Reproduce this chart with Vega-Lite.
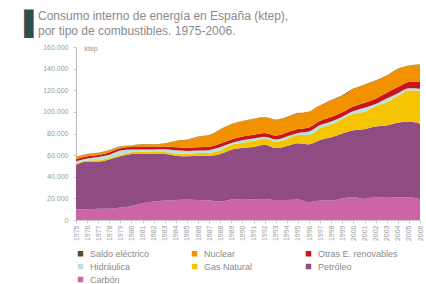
{
  "$schema": "https://vega.github.io/schema/vega-lite/v6.json",
  "width": 344,
  "height": 173,
  "autosize": {"type": "none"},
  "padding": {"left": 76, "top": 47, "right": 6, "bottom": 64},
  "background": "white",
  "config": {
    "view": {"stroke": null},
    "font": "Liberation Sans",
    "locale": {"number": {"decimal": ",", "thousands": ".", "grouping": [3], "currency": ["", " €"]}}
  },
  "title": {
    "text": ["Consumo interno de energía en España (ktep),", "por tipo de combustibles. 1975-2006."],
    "anchor": "start",
    "frame": "group",
    "dx": -38,
    "offset": -26,
    "fontSize": 12,
    "fontWeight": "normal",
    "color": "#8a8a8a",
    "lineHeight": 15
  },
  "data": {"values": [
    {"anio":1975,"fuente":"Carbón","ktep":10000},{"anio":1975,"fuente":"Petróleo","ktep":41000},{"anio":1975,"fuente":"Gas Natural","ktep":1000},{"anio":1975,"fuente":"Hidráulica","ktep":2300},{"anio":1975,"fuente":"Otras E. renovables","ktep":2000},{"anio":1975,"fuente":"Nuclear","ktep":2000},{"anio":1975,"fuente":"Saldo eléctrico","ktep":200},
    {"anio":1976,"fuente":"Carbón","ktep":10000},{"anio":1976,"fuente":"Petróleo","ktep":44000},{"anio":1976,"fuente":"Gas Natural","ktep":1000},{"anio":1976,"fuente":"Hidráulica","ktep":1900},{"anio":1976,"fuente":"Otras E. renovables","ktep":2000},{"anio":1976,"fuente":"Nuclear","ktep":2000},{"anio":1976,"fuente":"Saldo eléctrico","ktep":200},
    {"anio":1977,"fuente":"Carbón","ktep":10500},{"anio":1977,"fuente":"Petróleo","ktep":43500},{"anio":1977,"fuente":"Gas Natural","ktep":1200},{"anio":1977,"fuente":"Hidráulica","ktep":3000},{"anio":1977,"fuente":"Otras E. renovables","ktep":2000},{"anio":1977,"fuente":"Nuclear","ktep":1700},{"anio":1977,"fuente":"Saldo eléctrico","ktep":200},
    {"anio":1978,"fuente":"Carbón","ktep":10500},{"anio":1978,"fuente":"Petróleo","ktep":45500},{"anio":1978,"fuente":"Gas Natural","ktep":1300},{"anio":1978,"fuente":"Hidráulica","ktep":3100},{"anio":1978,"fuente":"Otras E. renovables","ktep":2100},{"anio":1978,"fuente":"Nuclear","ktep":2000},{"anio":1978,"fuente":"Saldo eléctrico","ktep":200},
    {"anio":1979,"fuente":"Carbón","ktep":11500},{"anio":1979,"fuente":"Petróleo","ktep":47500},{"anio":1979,"fuente":"Gas Natural","ktep":1400},{"anio":1979,"fuente":"Hidráulica","ktep":3800},{"anio":1979,"fuente":"Otras E. renovables","ktep":2100},{"anio":1979,"fuente":"Nuclear","ktep":1700},{"anio":1979,"fuente":"Saldo eléctrico","ktep":200},
    {"anio":1980,"fuente":"Carbón","ktep":13000},{"anio":1980,"fuente":"Petróleo","ktep":48000},{"anio":1980,"fuente":"Gas Natural","ktep":1600},{"anio":1980,"fuente":"Hidráulica","ktep":2600},{"anio":1980,"fuente":"Otras E. renovables","ktep":2200},{"anio":1980,"fuente":"Nuclear","ktep":1300},{"anio":1980,"fuente":"Saldo eléctrico","ktep":200},
    {"anio":1981,"fuente":"Carbón","ktep":15500},{"anio":1981,"fuente":"Petróleo","ktep":46000},{"anio":1981,"fuente":"Gas Natural","ktep":1800},{"anio":1981,"fuente":"Hidráulica","ktep":2000},{"anio":1981,"fuente":"Otras E. renovables","ktep":2300},{"anio":1981,"fuente":"Nuclear","ktep":2500},{"anio":1981,"fuente":"Saldo eléctrico","ktep":200},
    {"anio":1982,"fuente":"Carbón","ktep":17000},{"anio":1982,"fuente":"Petróleo","ktep":44000},{"anio":1982,"fuente":"Gas Natural","ktep":1900},{"anio":1982,"fuente":"Hidráulica","ktep":2300},{"anio":1982,"fuente":"Otras E. renovables","ktep":2400},{"anio":1982,"fuente":"Nuclear","ktep":2300},{"anio":1982,"fuente":"Saldo eléctrico","ktep":200},
    {"anio":1983,"fuente":"Carbón","ktep":18000},{"anio":1983,"fuente":"Petróleo","ktep":43000},{"anio":1983,"fuente":"Gas Natural","ktep":2000},{"anio":1983,"fuente":"Hidráulica","ktep":2400},{"anio":1983,"fuente":"Otras E. renovables","ktep":2600},{"anio":1983,"fuente":"Nuclear","ktep":2800},{"anio":1983,"fuente":"Saldo eléctrico","ktep":200},
    {"anio":1984,"fuente":"Carbón","ktep":18500},{"anio":1984,"fuente":"Petróleo","ktep":41000},{"anio":1984,"fuente":"Gas Natural","ktep":2100},{"anio":1984,"fuente":"Hidráulica","ktep":2800},{"anio":1984,"fuente":"Otras E. renovables","ktep":2800},{"anio":1984,"fuente":"Nuclear","ktep":6000},{"anio":1984,"fuente":"Saldo eléctrico","ktep":200},
    {"anio":1985,"fuente":"Carbón","ktep":19000},{"anio":1985,"fuente":"Petróleo","ktep":40000},{"anio":1985,"fuente":"Gas Natural","ktep":2200},{"anio":1985,"fuente":"Hidráulica","ktep":2700},{"anio":1985,"fuente":"Otras E. renovables","ktep":3000},{"anio":1985,"fuente":"Nuclear","ktep":7300},{"anio":1985,"fuente":"Saldo eléctrico","ktep":200},
    {"anio":1986,"fuente":"Carbón","ktep":18500},{"anio":1986,"fuente":"Petróleo","ktep":41000},{"anio":1986,"fuente":"Gas Natural","ktep":2400},{"anio":1986,"fuente":"Hidráulica","ktep":2300},{"anio":1986,"fuente":"Otras E. renovables","ktep":3100},{"anio":1986,"fuente":"Nuclear","ktep":9800},{"anio":1986,"fuente":"Saldo eléctrico","ktep":200},
    {"anio":1987,"fuente":"Carbón","ktep":18000},{"anio":1987,"fuente":"Petróleo","ktep":41500},{"anio":1987,"fuente":"Gas Natural","ktep":2700},{"anio":1987,"fuente":"Hidráulica","ktep":2400},{"anio":1987,"fuente":"Otras E. renovables","ktep":3200},{"anio":1987,"fuente":"Nuclear","ktep":10600},{"anio":1987,"fuente":"Saldo eléctrico","ktep":200},
    {"anio":1988,"fuente":"Carbón","ktep":17000},{"anio":1988,"fuente":"Petróleo","ktep":44000},{"anio":1988,"fuente":"Gas Natural","ktep":3300},{"anio":1988,"fuente":"Hidráulica","ktep":3100},{"anio":1988,"fuente":"Otras E. renovables","ktep":3300},{"anio":1988,"fuente":"Nuclear","ktep":13000},{"anio":1988,"fuente":"Saldo eléctrico","ktep":200},
    {"anio":1989,"fuente":"Carbón","ktep":19000},{"anio":1989,"fuente":"Petróleo","ktep":46000},{"anio":1989,"fuente":"Gas Natural","ktep":4500},{"anio":1989,"fuente":"Hidráulica","ktep":1600},{"anio":1989,"fuente":"Otras E. renovables","ktep":3400},{"anio":1989,"fuente":"Nuclear","ktep":14000},{"anio":1989,"fuente":"Saldo eléctrico","ktep":200},
    {"anio":1990,"fuente":"Carbón","ktep":19500},{"anio":1990,"fuente":"Petróleo","ktep":47000},{"anio":1990,"fuente":"Gas Natural","ktep":5000},{"anio":1990,"fuente":"Hidráulica","ktep":2200},{"anio":1990,"fuente":"Otras E. renovables","ktep":3500},{"anio":1990,"fuente":"Nuclear","ktep":14100},{"anio":1990,"fuente":"Saldo eléctrico","ktep":200},
    {"anio":1991,"fuente":"Carbón","ktep":19000},{"anio":1991,"fuente":"Petróleo","ktep":48500},{"anio":1991,"fuente":"Gas Natural","ktep":5500},{"anio":1991,"fuente":"Hidráulica","ktep":2400},{"anio":1991,"fuente":"Otras E. renovables","ktep":3500},{"anio":1991,"fuente":"Nuclear","ktep":14500},{"anio":1991,"fuente":"Saldo eléctrico","ktep":200},
    {"anio":1992,"fuente":"Carbón","ktep":19500},{"anio":1992,"fuente":"Petróleo","ktep":50000},{"anio":1992,"fuente":"Gas Natural","ktep":5800},{"anio":1992,"fuente":"Hidráulica","ktep":1700},{"anio":1992,"fuente":"Otras E. renovables","ktep":3500},{"anio":1992,"fuente":"Nuclear","ktep":14500},{"anio":1992,"fuente":"Saldo eléctrico","ktep":200},
    {"anio":1993,"fuente":"Carbón","ktep":18500},{"anio":1993,"fuente":"Petróleo","ktep":48000},{"anio":1993,"fuente":"Gas Natural","ktep":5900},{"anio":1993,"fuente":"Hidráulica","ktep":2100},{"anio":1993,"fuente":"Otras E. renovables","ktep":3600},{"anio":1993,"fuente":"Nuclear","ktep":14600},{"anio":1993,"fuente":"Saldo eléctrico","ktep":200},
    {"anio":1994,"fuente":"Carbón","ktep":18500},{"anio":1994,"fuente":"Petróleo","ktep":50000},{"anio":1994,"fuente":"Gas Natural","ktep":6400},{"anio":1994,"fuente":"Hidráulica","ktep":2400},{"anio":1994,"fuente":"Otras E. renovables","ktep":3600},{"anio":1994,"fuente":"Nuclear","ktep":14400},{"anio":1994,"fuente":"Saldo eléctrico","ktep":200},
    {"anio":1995,"fuente":"Carbón","ktep":19000},{"anio":1995,"fuente":"Petróleo","ktep":52000},{"anio":1995,"fuente":"Gas Natural","ktep":7500},{"anio":1995,"fuente":"Hidráulica","ktep":2000},{"anio":1995,"fuente":"Otras E. renovables","ktep":3600},{"anio":1995,"fuente":"Nuclear","ktep":14400},{"anio":1995,"fuente":"Saldo eléctrico","ktep":400},
    {"anio":1996,"fuente":"Carbón","ktep":16500},{"anio":1996,"fuente":"Petróleo","ktep":53500},{"anio":1996,"fuente":"Gas Natural","ktep":8500},{"anio":1996,"fuente":"Hidráulica","ktep":3400},{"anio":1996,"fuente":"Otras E. renovables","ktep":3700},{"anio":1996,"fuente":"Nuclear","ktep":14700},{"anio":1996,"fuente":"Saldo eléctrico","ktep":100},
    {"anio":1997,"fuente":"Carbón","ktep":18000},{"anio":1997,"fuente":"Petróleo","ktep":56000},{"anio":1997,"fuente":"Gas Natural","ktep":11000},{"anio":1997,"fuente":"Hidráulica","ktep":2900},{"anio":1997,"fuente":"Otras E. renovables","ktep":3800},{"anio":1997,"fuente":"Nuclear","ktep":14400},{"anio":1997,"fuente":"Saldo eléctrico","ktep":100},
    {"anio":1998,"fuente":"Carbón","ktep":18000},{"anio":1998,"fuente":"Petróleo","ktep":58500},{"anio":1998,"fuente":"Gas Natural","ktep":11800},{"anio":1998,"fuente":"Hidráulica","ktep":2900},{"anio":1998,"fuente":"Otras E. renovables","ktep":4000},{"anio":1998,"fuente":"Nuclear","ktep":15400},{"anio":1998,"fuente":"Saldo eléctrico","ktep":300},
    {"anio":1999,"fuente":"Carbón","ktep":20000},{"anio":1999,"fuente":"Petróleo","ktep":60000},{"anio":1999,"fuente":"Gas Natural","ktep":13500},{"anio":1999,"fuente":"Hidráulica","ktep":2000},{"anio":1999,"fuente":"Otras E. renovables","ktep":4100},{"anio":1999,"fuente":"Nuclear","ktep":15300},{"anio":1999,"fuente":"Saldo eléctrico","ktep":500},
    {"anio":2000,"fuente":"Carbón","ktep":21000},{"anio":2000,"fuente":"Petróleo","ktep":62000},{"anio":2000,"fuente":"Gas Natural","ktep":15200},{"anio":2000,"fuente":"Hidráulica","ktep":2500},{"anio":2000,"fuente":"Otras E. renovables","ktep":4300},{"anio":2000,"fuente":"Nuclear","ktep":16200},{"anio":2000,"fuente":"Saldo eléctrico","ktep":400},
    {"anio":2001,"fuente":"Carbón","ktep":19500},{"anio":2001,"fuente":"Petróleo","ktep":64500},{"anio":2001,"fuente":"Gas Natural","ktep":16400},{"anio":2001,"fuente":"Hidráulica","ktep":3500},{"anio":2001,"fuente":"Otras E. renovables","ktep":4600},{"anio":2001,"fuente":"Nuclear","ktep":16600},{"anio":2001,"fuente":"Saldo eléctrico","ktep":300},
    {"anio":2002,"fuente":"Carbón","ktep":21500},{"anio":2002,"fuente":"Petróleo","ktep":65000},{"anio":2002,"fuente":"Gas Natural","ktep":18800},{"anio":2002,"fuente":"Hidráulica","ktep":2000},{"anio":2002,"fuente":"Otras E. renovables","ktep":4900},{"anio":2002,"fuente":"Nuclear","ktep":16400},{"anio":2002,"fuente":"Saldo eléctrico","ktep":500},
    {"anio":2003,"fuente":"Carbón","ktep":20500},{"anio":2003,"fuente":"Petróleo","ktep":67000},{"anio":2003,"fuente":"Gas Natural","ktep":21300},{"anio":2003,"fuente":"Hidráulica","ktep":3500},{"anio":2003,"fuente":"Otras E. renovables","ktep":5300},{"anio":2003,"fuente":"Nuclear","ktep":16100},{"anio":2003,"fuente":"Saldo eléctrico","ktep":100},
    {"anio":2004,"fuente":"Carbón","ktep":21000},{"anio":2004,"fuente":"Petróleo","ktep":69000},{"anio":2004,"fuente":"Gas Natural","ktep":24600},{"anio":2004,"fuente":"Hidráulica","ktep":2700},{"anio":2004,"fuente":"Otras E. renovables","ktep":5600},{"anio":2004,"fuente":"Nuclear","ktep":16600},{"anio":2004,"fuente":"Saldo eléctrico","ktep":300},
    {"anio":2005,"fuente":"Carbón","ktep":21000},{"anio":2005,"fuente":"Petróleo","ktep":70000},{"anio":2005,"fuente":"Gas Natural","ktep":29100},{"anio":2005,"fuente":"Hidráulica","ktep":1700},{"anio":2005,"fuente":"Otras E. renovables","ktep":5900},{"anio":2005,"fuente":"Nuclear","ktep":14900},{"anio":2005,"fuente":"Saldo eléctrico","ktep":300},
    {"anio":2006,"fuente":"Carbón","ktep":19000},{"anio":2006,"fuente":"Petróleo","ktep":70000},{"anio":2006,"fuente":"Gas Natural","ktep":30300},{"anio":2006,"fuente":"Hidráulica","ktep":2200},{"anio":2006,"fuente":"Otras E. renovables","ktep":6500},{"anio":2006,"fuente":"Nuclear","ktep":15700},{"anio":2006,"fuente":"Saldo eléctrico","ktep":300}
  ]},
  "transform": [
    {"calculate": "indexof(['Carbón','Petróleo','Gas Natural','Hidráulica','Otras E. renovables','Nuclear','Saldo eléctrico'], datum.fuente)", "as": "orden"}
  ],
  "mark": {"type": "area", "interpolate": "monotone"},
  "encoding": {
    "x": {
      "field": "anio",
      "type": "quantitative",
      "scale": {"domain": [1975, 2006], "nice": false, "zero": false},
      "axis": {
        "values": [1975,1976,1977,1978,1979,1980,1981,1982,1983,1984,1985,1986,1987,1988,1989,1990,1991,1992,1993,1994,1995,1996,1997,1998,1999,2000,2001,2002,2003,2004,2005,2006],
        "format": "d",
        "labelAngle": -90,
        "labelAlign": "right",
        "labelBaseline": "middle",
        "labelFontSize": 7,
        "labelColor": "#9a9a9a",
        "labelPadding": 2,
        "labelOverlap": false,
        "tickSize": 3,
        "tickColor": "#cccccc",
        "domainColor": "#cccccc",
        "grid": false,
        "title": "▐",
        "titleFont": "DejaVu Sans",
        "titleFontSize": 24,
        "titleFontWeight": "normal",
        "titleColor": "#2f4f4f",
        "titleAlign": "right",
        "titleBaseline": "top",
        "titleAngle": 0,
        "titleX": -43,
        "titleY": -208
      }
    },
    "y": {
      "field": "ktep",
      "type": "quantitative",
      "stack": "zero",
      "scale": {"domain": [0, 160000], "nice": false},
      "axis": {
        "values": [0,20000,40000,60000,80000,100000,120000,140000,160000],
        "format": ",d",
        "labelFontSize": 7,
        "labelColor": "#9a9a9a",
        "labelPadding": 5,
        "tickSize": 3,
        "tickColor": "#cccccc",
        "domainColor": "#bbbbbb",
        "grid": false,
        "title": "ktep",
        "titleAngle": 0,
        "titleAlign": "left",
        "titleBaseline": "middle",
        "titleX": 8,
        "titleY": 1,
        "titleFontSize": 7,
        "titleFontWeight": "normal",
        "titleColor": "#9a9a9a"
      }
    },
    "color": {
      "field": "fuente",
      "type": "nominal",
      "scale": {
        "domain": ["Saldo eléctrico","Nuclear","Otras E. renovables","Hidráulica","Gas Natural","Petróleo","Carbón"],
        "range": ["#5e4a22","#f39200","#c8151b","#b5e3e0","#f4c500","#8e4c82","#cc64a6"]
      },
      "legend": {
        "title": null,
        "orient": "bottom",
        "direction": "horizontal",
        "columns": 3,
        "gridAlign": "all",
        "symbolType": "square",
        "symbolSize": 30,
        "symbolStrokeWidth": 0,
        "labelFontSize": 9,
        "labelColor": "#8a8a8a",
        "labelOffset": 5,
        "labelLimit": 200,
        "columnPadding": 20,
        "rowPadding": 3,
        "offset": 8
      }
    },
    "order": {"field": "orden", "type": "quantitative"}
  }
}
